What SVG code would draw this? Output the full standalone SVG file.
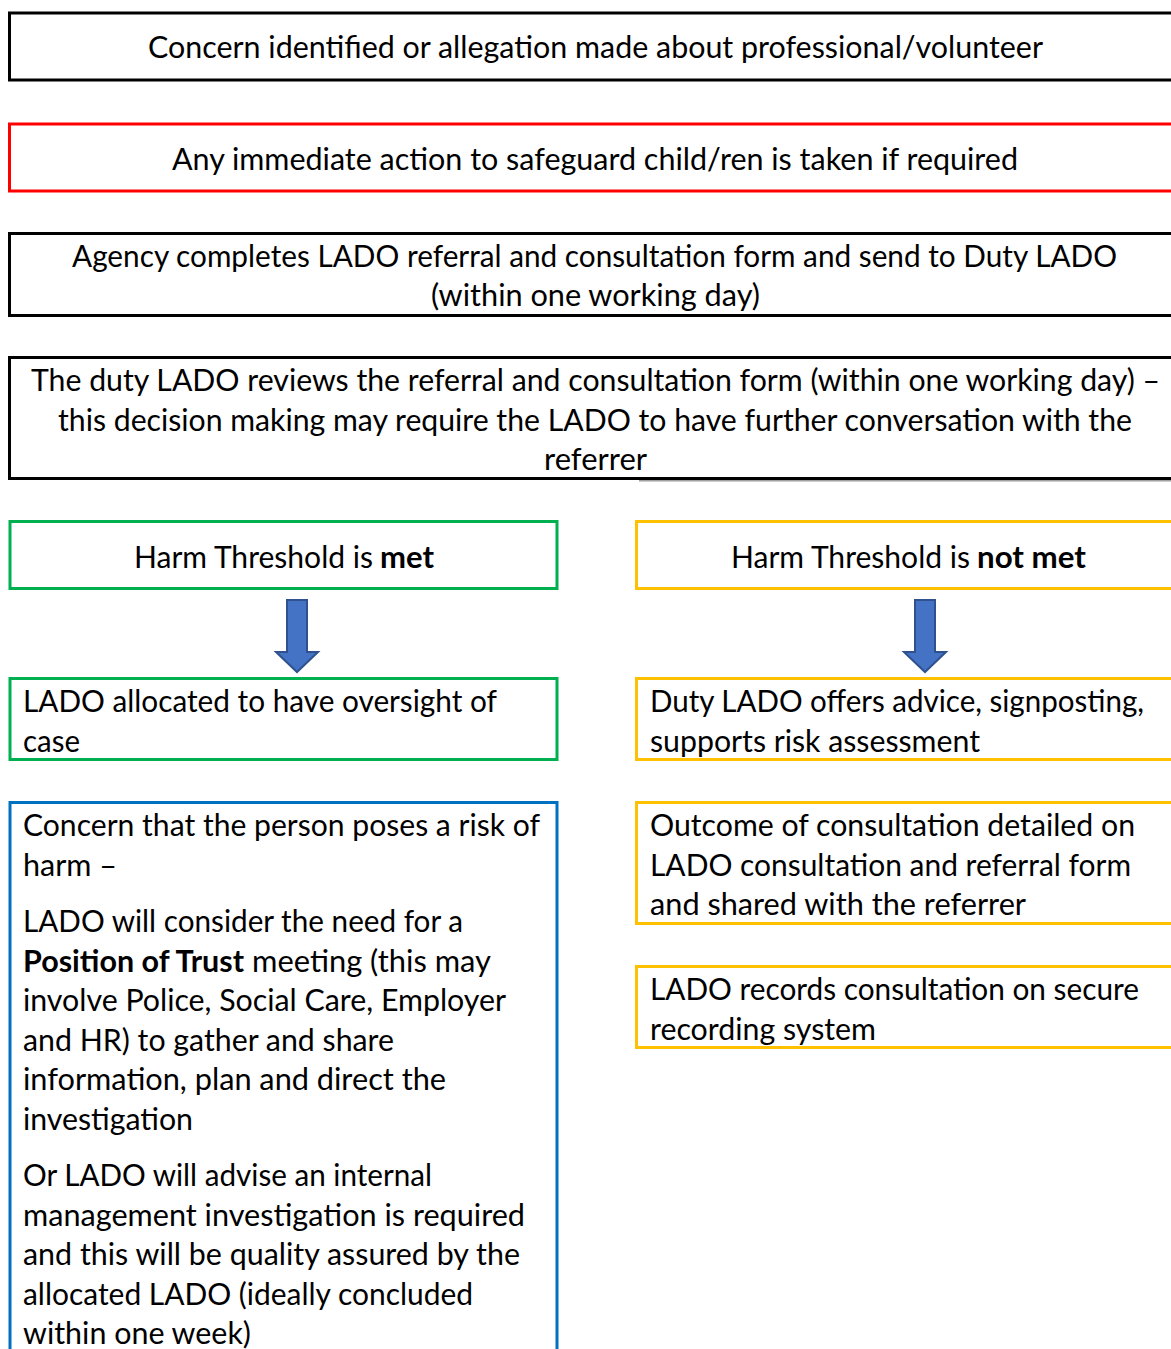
<svg xmlns="http://www.w3.org/2000/svg" width="1171" height="1349" viewBox="0 0 1171 1349">
<style>
text{font-family:Lato,"Liberation Sans",sans-serif;font-size:30px;fill:#000}
.b{font-weight:bold}
.box{fill:#fff;stroke-width:3}
.blk{stroke:#000}
.red{stroke:#FF0000}
.grn{stroke:#00B050}
.ylw{stroke:#FFC000}
.blu{stroke:#0070C0}
.arr{fill:#4472C4;stroke:#2F528F;stroke-width:2}
</style>
<rect width="1171" height="1349" fill="#fff"/>
<g id="n1">
<rect class="box blk" x="9.5" y="13" width="1175" height="67"/>
<text x="148" y="58" textLength="895" lengthAdjust="spacingAndGlyphs">Concern identified or allegation made about professional/volunteer</text>
</g>
<g id="n2">
<rect class="box red" x="9.5" y="124" width="1175" height="67"/>
<text x="172" y="170" textLength="846" lengthAdjust="spacingAndGlyphs">Any immediate action to safeguard child/ren is taken if required</text>
</g>
<g id="n3">
<rect class="box blk" x="9.5" y="233.5" width="1175" height="82"/>
<text x="72" y="267" textLength="1045" lengthAdjust="spacingAndGlyphs">Agency completes LADO referral and consultation form and send to Duty LADO</text>
<text x="431" y="306" textLength="329" lengthAdjust="spacingAndGlyphs">(within one working day)</text>
</g>
<g id="n4">
<line x1="639" y1="480.5" x2="1171" y2="480.5" stroke="#a0a0a0" stroke-width="2"/>
<rect class="box blk" x="9.5" y="357.5" width="1175" height="121"/>
<text x="31" y="391" textLength="1129" lengthAdjust="spacingAndGlyphs">The duty LADO reviews the referral and consultation form (within one working day) –</text>
<text x="58" y="430.5" textLength="1074" lengthAdjust="spacingAndGlyphs">this decision making may require the LADO to have further conversation with the</text>
<text x="544" y="470" textLength="103" lengthAdjust="spacingAndGlyphs">referrer</text>
</g>
<g id="n5">
<rect class="box grn" x="10" y="521.5" width="547" height="67"/>
<text x="134" y="568" textLength="239" lengthAdjust="spacingAndGlyphs">Harm Threshold is</text>
<text class="b" x="380" y="568" textLength="54" lengthAdjust="spacingAndGlyphs">met</text>
</g>
<g id="n6">
<rect class="box ylw" x="636.5" y="521.5" width="548" height="67"/>
<text x="731" y="568" textLength="239" lengthAdjust="spacingAndGlyphs">Harm Threshold is</text>
<text class="b" x="977" y="568" textLength="109" lengthAdjust="spacingAndGlyphs">not met</text>
</g>
<g id="n7">
<rect class="box grn" x="10" y="678.5" width="547" height="81"/>
<text x="23" y="712" textLength="474" lengthAdjust="spacingAndGlyphs">LADO allocated to have oversight of</text>
<text x="23" y="751.5" textLength="57" lengthAdjust="spacingAndGlyphs">case</text>
</g>
<g id="n8">
<rect class="box ylw" x="636.5" y="678.5" width="548" height="81"/>
<text x="650" y="712" textLength="494" lengthAdjust="spacingAndGlyphs">Duty LADO offers advice, signposting,</text>
<text x="650" y="751.5" textLength="330" lengthAdjust="spacingAndGlyphs">supports risk assessment</text>
</g>
<g id="n9">
<rect class="box blu" x="10" y="802.5" width="547" height="560"/>
<text x="23" y="836" textLength="517" lengthAdjust="spacingAndGlyphs">Concern that the person poses a risk of</text>
<text x="23" y="875.5" textLength="94" lengthAdjust="spacingAndGlyphs">harm –</text>
<text x="23" y="932" textLength="440" lengthAdjust="spacingAndGlyphs">LADO will consider the need for a</text>
<text class="b" x="23" y="971.5" textLength="221" lengthAdjust="spacingAndGlyphs">Position of Trust</text>
<text x="252" y="971.5" textLength="239" lengthAdjust="spacingAndGlyphs">meeting (this may</text>
<text x="23" y="1011" textLength="483" lengthAdjust="spacingAndGlyphs">involve Police, Social Care, Employer</text>
<text x="23" y="1050.5" textLength="371" lengthAdjust="spacingAndGlyphs">and HR) to gather and share</text>
<text x="23" y="1090" textLength="423" lengthAdjust="spacingAndGlyphs">information, plan and direct the</text>
<text x="23" y="1129.5" textLength="170" lengthAdjust="spacingAndGlyphs">investigation</text>
<text x="23" y="1186" textLength="409" lengthAdjust="spacingAndGlyphs">Or LADO will advise an internal</text>
<text x="23" y="1225.5" textLength="502" lengthAdjust="spacingAndGlyphs">management investigation is required</text>
<text x="23" y="1265" textLength="497" lengthAdjust="spacingAndGlyphs">and this will be quality assured by the</text>
<text x="23" y="1304.5" textLength="450" lengthAdjust="spacingAndGlyphs">allocated LADO (ideally concluded</text>
<text x="23" y="1344" textLength="228" lengthAdjust="spacingAndGlyphs">within one week)</text>
</g>
<g id="n10">
<rect class="box ylw" x="636.5" y="802.5" width="548" height="121"/>
<text x="650" y="836" textLength="485" lengthAdjust="spacingAndGlyphs">Outcome of consultation detailed on</text>
<text x="650" y="875.5" textLength="481" lengthAdjust="spacingAndGlyphs">LADO consultation and referral form</text>
<text x="650" y="915" textLength="376" lengthAdjust="spacingAndGlyphs">and shared with the referrer</text>
</g>
<g id="n11">
<rect class="box ylw" x="636.5" y="966.5" width="548" height="81"/>
<text x="650" y="1000" textLength="489" lengthAdjust="spacingAndGlyphs">LADO records consultation on secure</text>
<text x="650" y="1039.5" textLength="226" lengthAdjust="spacingAndGlyphs">recording system</text>
</g>
<g id="connectors">
<path class="arr" d="M287,600 H307 V652 H318 L297,672 L276,652 H287 Z"/>
<path class="arr" d="M915,600 H935 V652 H946 L925,672 L904,652 H915 Z"/>
</g>
</svg>
